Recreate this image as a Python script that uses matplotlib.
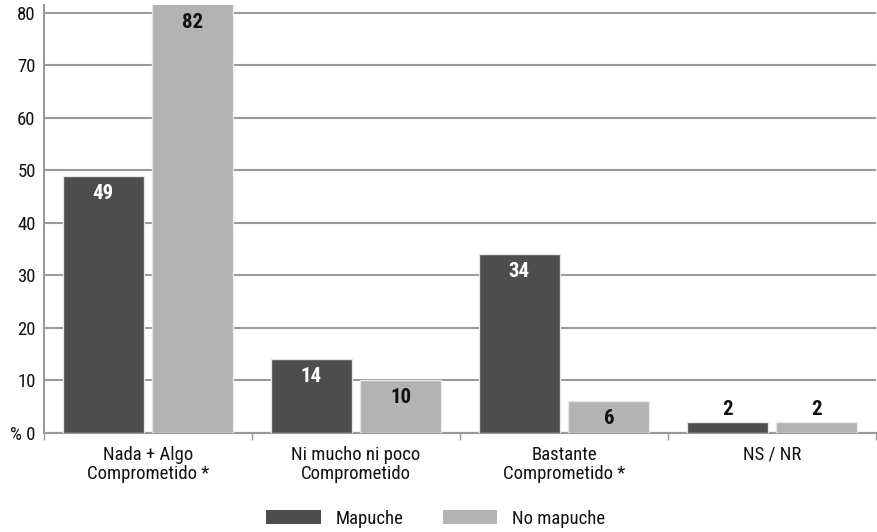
import matplotlib.pyplot as plt
import numpy as np
from matplotlib import font_manager
from matplotlib.patches import Patch

# fuente estrecha si hay alguna instalada
disponibles = {f.name for f in font_manager.fontManager.ttflist}
familia = 'DejaVu Sans'
for cand in ['Liberation Sans Narrow', 'DejaVu Sans Condensed', 'Roboto Condensed',
             'Open Sans Condensed', 'Noto Sans Condensed']:
    if cand in disponibles:
        familia = cand
        break
plt.rcParams['font.family'] = [familia, 'DejaVu Sans']
plt.rcParams['font.stretch'] = 'condensed'
plt.rcParams['text.color'] = '#111111'
plt.rcParams['xtick.labelcolor'] = '#111111'
plt.rcParams['ytick.labelcolor'] = '#111111'

categorias = ['Nada + Algo\nComprometido *', 'Ni mucho ni poco\nComprometido',
              'Bastante\nComprometido *', 'NS / NR']
mapuche = [49, 14, 34, 2]
no_mapuche = [82, 10, 6, 2]
series = ['Mapuche', 'No mapuche']
yticks = [0, 10, 20, 30, 40, 50, 60, 70, 80]
ytick_labels = ['% 0', '10', '20', '30', '40', '50', '60', '70', '80']

oscuro = '#4d4d4d'
claro = '#b3b3b3'
gris = '#9a9a9a'

fig = plt.figure(figsize=(8.77, 5.32), dpi=100)
ax = fig.add_axes([44/877, 1 - 433/532, 832/877, 428/532])

x = np.arange(len(categorias))
ancho = 0.39
desp = 0.216
b1 = ax.bar(x - desp, mapuche, ancho, color=oscuro, edgecolor='#e6e6e6', linewidth=1, zorder=3)
b2 = ax.bar(x + desp, no_mapuche, ancho, color=claro, edgecolor='#e6e6e6', linewidth=1, zorder=3)

ax.set_xlim(-0.5, 3.5)
ax.set_ylim(0, 81.5)
ax.set_yticks(yticks)
ax.set_yticklabels(ytick_labels, fontsize=13.5)
ax.tick_params(axis='y', length=0, pad=6)
ax.yaxis.grid(True, color=gris, linewidth=1.5, zorder=0)
ax.set_axisbelow(True)

ax.set_xticks(x)
ax.set_xticklabels(categorias, fontsize=13.5, linespacing=1.1)
ax.tick_params(axis='x', which='major', length=0, pad=9)
ax.set_xticks(np.arange(-0.5, 4.0, 1.0), minor=True)
ax.tick_params(axis='x', which='minor', length=5, width=1, color=gris, direction='out')

for lado in ['top', 'right']:
    ax.spines[lado].set_visible(False)
for lado in ['left', 'bottom']:
    ax.spines[lado].set_color(gris)
    ax.spines[lado].set_linewidth(1.5)

# etiquetas de valor: dentro de la barra si cabe, encima si es muy baja
for barras, color_txt in [(b1, 'white'), (b2, '#111111')]:
    for b in barras:
        v = b.get_height()
        cx = b.get_x() + b.get_width() / 2
        if v >= 5:
            y = min(v, 81.5) - 1.5
            ax.text(cx, y, f'{v:g}', ha='center', va='top', fontsize=15,
                    fontweight='bold', color=color_txt, zorder=4)
        else:
            ax.text(cx, v + 0.6, f'{v:g}', ha='center', va='bottom', fontsize=15,
                    fontweight='bold', color='#111111', zorder=4)

handles = [Patch(facecolor=oscuro, label=series[0]), Patch(facecolor=claro, label=series[1])]
fig.legend(handles=handles, loc='center', bbox_to_anchor=(0.497, 0.025), ncol=2,
           frameon=False, fontsize=13.5, handlelength=2.9, handleheight=0.75,
           handletextpad=0.8, columnspacing=2.1)

fig.savefig('out.png', dpi=100)
